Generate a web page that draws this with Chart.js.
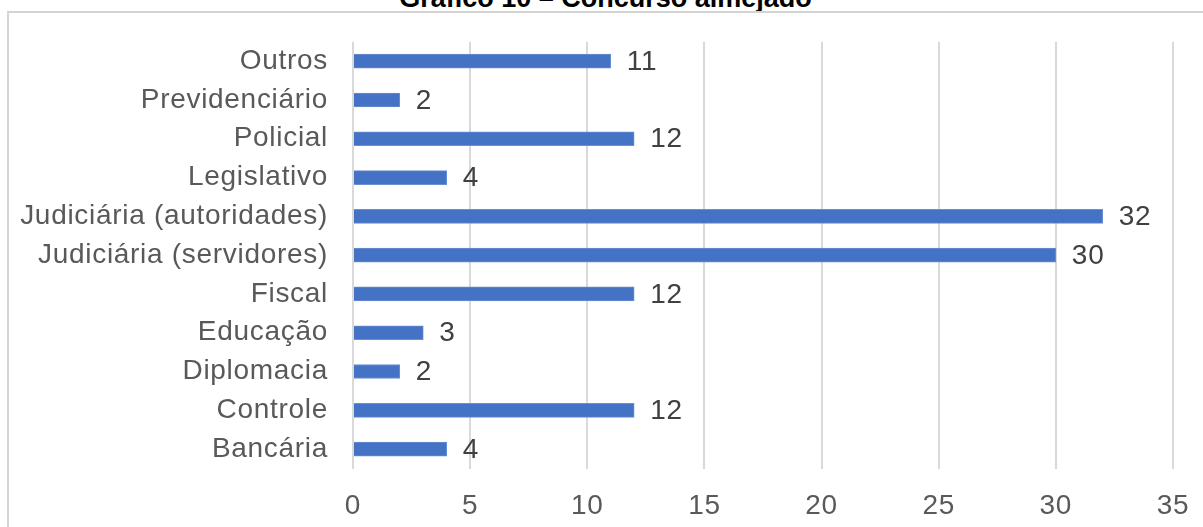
<!DOCTYPE html>
<html>
<head>
<meta charset="utf-8">
<script src="https://cdn.jsdelivr.net/npm/chart.js@4/dist/chart.umd.min.js"></script>
<style>
  html, body { margin: 0; padding: 0; background: #fff; overflow: hidden; }
  #title {
    position: absolute; left: 0; width: 1203px; top: -15px;
    text-align: center; font: bold 27px "Liberation Sans", Arial, sans-serif;
    line-height: 27px; color: #000; padding-left: 4px;
  }
  #frame {
    position: absolute; left: 7px; top: 11px; width: 1300px; height: 600px;
    border: 2px solid #d4d4d4;
  }
  #wrap { position: absolute; left: 0; top: 0; width: 1203px; height: 527px; }
</style>
</head>
<body>
<div id="title">Gráfico 10 – Concurso almejado</div>
<div id="frame"></div>
<div id="wrap"><canvas id="chart"></canvas></div>
<script>
const categories = ['Outros', 'Previdenciário', 'Policial', 'Legislativo', 'Judiciária (autoridades)',
  'Judiciária (servidores)', 'Fiscal', 'Educação', 'Diplomacia', 'Controle', 'Bancária'];
const counts = [11, 2, 12, 4, 32, 30, 12, 3, 2, 12, 4];
const xTicks = [0, 5, 10, 15, 20, 25, 30, 35];

const FONT = '"Liberation Sans", Arial, sans-serif';

// slightly looser tracking for every label on the canvas
const tracking = {
  id: 'tracking',
  beforeDraw(chart) { chart.ctx.letterSpacing = '0.7px'; }
};

// value written just past the end of each bar
const barValues = {
  id: 'barValues',
  afterDatasetsDraw(chart) {
    const ctx = chart.ctx;
    const meta = chart.getDatasetMeta(0);
    ctx.save();
    ctx.font = '28px ' + FONT;
    ctx.fillStyle = '#404040';
    ctx.textAlign = 'left';
    ctx.textBaseline = 'middle';
    meta.data.forEach((bar, i) => {
      ctx.fillText(String(counts[i]), bar.x + 16, bar.y + 1);
    });
    ctx.restore();
  }
};

new Chart(document.getElementById('chart'), {
  type: 'bar',
  data: {
    labels: categories,
    datasets: [{
      data: counts,
      backgroundColor: '#4472C4',
      borderColor: '#6b8fd3',
      borderWidth: 1,
      barThickness: 14
    }]
  },
  options: {
    indexAxis: 'y',
    responsive: true,
    maintainAspectRatio: false,
    animation: false,
    layout: { padding: { top: 39.5, right: 30, left: 0, bottom: 0 } },
    plugins: { legend: { display: false }, tooltip: { enabled: false } },
    scales: {
      x: {
        min: 0, max: 35,
        afterBuildTicks(scale) { scale.ticks = xTicks.map(v => ({ value: v })); },
        afterFit(scale) {
          scale.height = 58.5;
          scale.paddingLeft = 0;
          scale.paddingRight = 0;
        },
        grid: { color: '#d9d9d9', lineWidth: 2, drawTicks: false },
        border: { display: false },
        ticks: { padding: 21, color: '#595959', font: { family: FONT, size: 28 } }
      },
      y: {
        afterFit(scale) { scale.width = 353; },
        grid: { display: false, drawTicks: false },
        border: { display: false },
        ticks: { padding: 25, color: '#595959', font: { family: FONT, size: 28 } }
      }
    }
  },
  plugins: [tracking, barValues]
});
</script>
</body>
</html>
